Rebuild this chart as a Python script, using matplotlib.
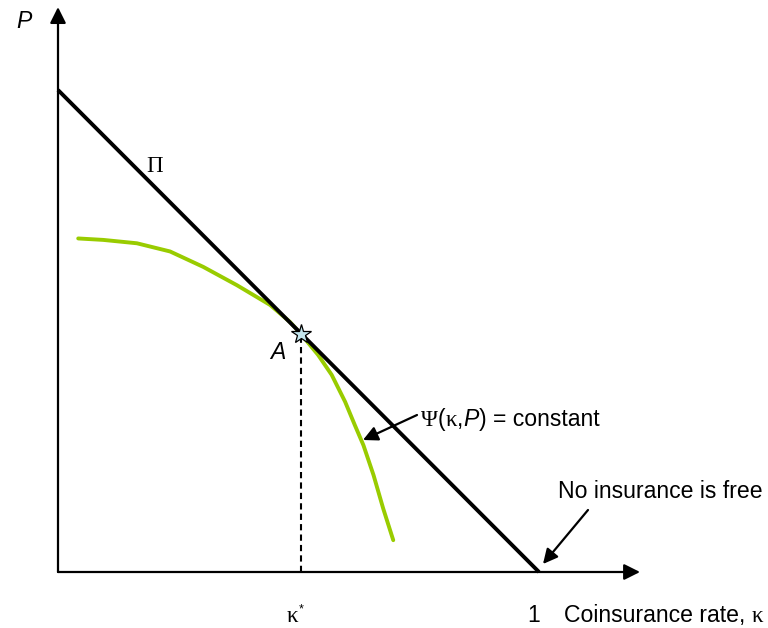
import matplotlib
matplotlib.use('Agg')
import matplotlib.pyplot as plt

# budget line Pi: premium against coinsurance rate
pi_kappa = [0.0, 1.0]
pi_P = [1.0, 0.0]

# indifference curve Psi(kappa, P) = constant
psi_kappa = [0.042, 0.094, 0.164, 0.233, 0.302, 0.372, 0.441, 0.482, 0.505,
             0.541, 0.569, 0.597, 0.617, 0.635, 0.656, 0.676, 0.697]
psi_P = [0.692, 0.689, 0.682, 0.665, 0.633, 0.595, 0.554, 0.519, 0.494,
         0.450, 0.409, 0.353, 0.305, 0.263, 0.201, 0.132, 0.066]

# optimum A
kappa_star = 0.505
P_star = 0.494

SANS = 'Liberation Sans'
SERIF = 'Liberation Serif'
FS = 16.6


def px(x, y):
    # picture pixel -> data coords (origin at pixel 58, 572)
    return (x - 58) / 481, (572 - y) / 482


def runs(ax, x, y, parts, size=FS):
    # put text pieces side by side, bottoms aligned
    s, fam, style = parts[0]
    t = ax.text(*px(x, y), s, family=fam, style=style, fontsize=size, va='bottom', ha='left')
    for s, fam, style in parts[1:]:
        t = ax.annotate(s, xy=(1, 0), xycoords=t, family=fam, style=style,
                        fontsize=size, va='bottom', ha='left')
    return t


fig = plt.figure(figsize=(7.68, 6.28), dpi=100)
ax = fig.add_axes([0, 0, 1, 1])
ax.set_xlim(-58 / 481, 710 / 481)
ax.set_ylim(-56 / 482, 572 / 482)
ax.axis('off')

# axes with arrows
ax.annotate('', xy=(0, 1.172), xytext=(0, 0),
            arrowprops=dict(arrowstyle='-|>', lw=1.6, color='k', mutation_scale=24, shrinkA=0, shrinkB=0))
ax.annotate('', xy=(1.21, 0), xytext=(0, 0),
            arrowprops=dict(arrowstyle='-|>', lw=1.6, color='k', mutation_scale=24, shrinkA=0, shrinkB=0))

# Pi line and indifference curve
ax.plot(pi_kappa, pi_P, color='black', lw=2.8, solid_capstyle='butt', zorder=3)
ax.plot(psi_kappa, psi_P, color='#99CC00', lw=2.8, solid_capstyle='round',
        solid_joinstyle='round', zorder=2)

# dashed drop line and star at A
ax.plot([kappa_star, kappa_star], [0, P_star], color='black', lw=1.5, ls=(0, (3, 2)), zorder=1)
ax.plot(kappa_star, P_star, marker='*', markersize=15, markerfacecolor='#C4E6EE',
        markeredgecolor='black', markeredgewidth=0.9, zorder=4)

# pointer arrows
ax.annotate('', xy=px(363, 440), xytext=px(417, 415),
            arrowprops=dict(arrowstyle='-|>', lw=1.6, color='k', mutation_scale=22, shrinkA=0, shrinkB=0))
ax.annotate('', xy=px(543, 564), xytext=px(588, 510),
            arrowprops=dict(arrowstyle='-|>', lw=1.6, color='k', mutation_scale=22, shrinkA=0, shrinkB=0))

# labels
runs(ax, 16, 33, [('P', SANS, 'italic')])
runs(ax, 146, 177, [('\u03a0', SERIF, 'normal')])
runs(ax, 270, 364, [('A', SANS, 'italic')])
runs(ax, 421, 431, [('\u03a8', SERIF, 'normal'), ('(', SANS, 'normal'), ('\u03ba', SERIF, 'normal'),
                    (',', SANS, 'normal'), ('P', SANS, 'italic'), (') = constant', SANS, 'normal')])
runs(ax, 558, 503, [('No insurance is free', SANS, 'normal')])
k = runs(ax, 287, 627, [('\u03ba', SERIF, 'normal')])
ax.annotate('*', xy=(1, 0.85), xycoords=k, family=SANS, fontsize=9, va='center', ha='left')
runs(ax, 527, 627, [('1', SANS, 'normal')])
runs(ax, 564, 627, [('Coinsurance rate, ', SANS, 'normal'), ('\u03ba', SERIF, 'normal')])

fig.savefig('out.png', dpi=100)
